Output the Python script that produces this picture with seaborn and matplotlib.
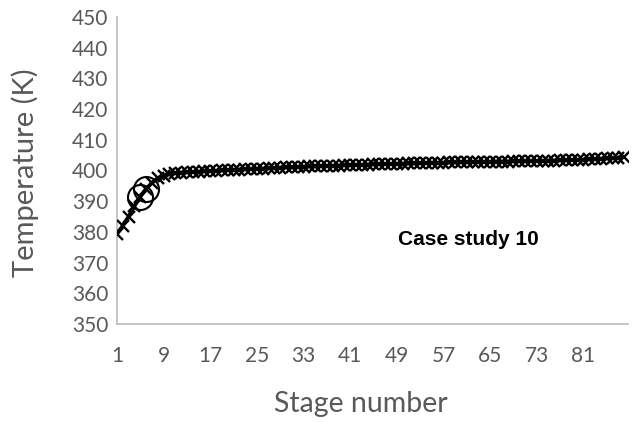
import matplotlib
matplotlib.use("Agg")
import matplotlib.pyplot as plt
import seaborn as sns
import pandas as pd

# Temperature profile along the column (stage 1 .. 88)
stages = list(range(1, 89))
temperature = [
    379.3, 382.0, 385.0, 388.5, 391.5, 394.0, 396.0, 397.5, 398.3, 398.8,
    399.1, 399.3, 399.4, 399.5, 399.6, 399.7, 399.8, 399.9, 400.0, 400.1,
    400.2, 400.3, 400.4, 400.5, 400.6, 400.6, 400.7, 400.8, 400.9, 401.0,
    401.0, 401.1, 401.2, 401.3, 401.3, 401.4, 401.5, 401.5, 401.6, 401.7,
    401.7, 401.8, 401.8, 401.9, 402.0, 402.0, 402.1, 402.1, 402.2, 402.2,
    402.3, 402.3, 402.4, 402.4, 402.5, 402.5, 402.5, 402.6, 402.6, 402.7,
    402.7, 402.7, 402.8, 402.8, 402.8, 402.9, 402.9, 402.9, 403.0, 403.0,
    403.0, 403.1, 403.1, 403.1, 403.2, 403.2, 403.3, 403.3, 403.4, 403.4,
    403.5, 403.6, 403.7, 403.8, 403.9, 404.0, 404.2, 404.4,
]

# Feed stages highlighted with open circles
feed_stages = [5, 6]
feed_temperature = [391.5, 394.0]

x_ticks = [1, 9, 17, 25, 33, 41, 49, 57, 65, 73, 81]
y_ticks = [350, 360, 370, 380, 390, 400, 410, 420, 430, 440, 450]

profile = pd.DataFrame({"stage": stages, "T": temperature})
feeds = pd.DataFrame({"stage": feed_stages, "T": feed_temperature})

sns.set_theme(style="white")
plt.rcParams["font.family"] = ["Lato", "DejaVu Sans"]

fig = plt.figure(figsize=(6.34, 4.23), dpi=100)
ax = fig.add_axes([0.1845, 0.234, 0.806, 0.726])

sns.lineplot(data=profile, x="stage", y="T", ax=ax, color="black",
             linewidth=2.8, marker="x", markersize=9, markeredgewidth=1.7,
             markeredgecolor="black", zorder=3)
sns.lineplot(data=feeds, x="stage", y="T", ax=ax, color="black",
             linestyle="none", marker="o", markersize=18,
             markerfacecolor="none", markeredgecolor="black",
             markeredgewidth=1.5, zorder=4)

ax.set_xlim(1, 88.65)
ax.set_ylim(350, 450)
ax.set_xticks(x_ticks)
ax.set_yticks(y_ticks)
ax.tick_params(axis="both", length=0, labelsize=15, colors="#595959", pad=6)
ax.tick_params(axis="x", pad=16)

ax.set_xlabel("Stage number", fontsize=20.5, color="#595959")
ax.set_ylabel("Temperature (K)", fontsize=21, color="#595959")
ax.xaxis.set_label_coords(0.477, -0.262)
ax.yaxis.set_label_coords(-0.18, 0.493)
ax.xaxis.label.set_va("center")
ax.yaxis.label.set_va("center")

for side in ("top", "right"):
    ax.spines[side].set_visible(False)
for side in ("left", "bottom"):
    ax.spines[side].set_color("#BFBFBF")
    ax.spines[side].set_linewidth(1.3)
ax.grid(False)

ax.text(49.2, 377.4, "Case study 10", fontsize=15, fontweight="bold",
        family="Liberation Sans", color="black", va="center", ha="left")

fig.savefig("out.png", dpi=100, facecolor="white")
